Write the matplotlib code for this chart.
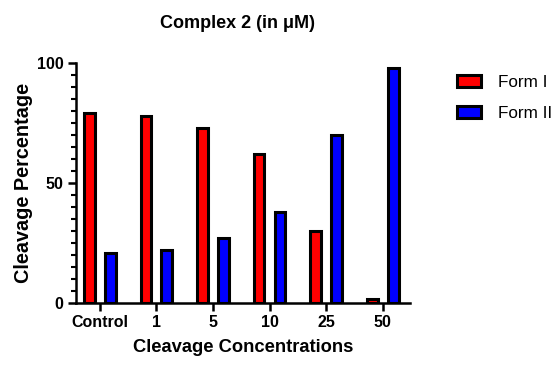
import matplotlib
matplotlib.use("Agg")
import matplotlib.pyplot as plt
import numpy as np
from matplotlib.ticker import MultipleLocator

categories = ["Control", "1", "5", "10", "25", "50"]
form_i = [79, 78, 73, 62, 30, 1.5]
form_ii = [21, 22, 27, 38, 70, 98]

plt.rcParams["font.family"] = ["Liberation Sans", "DejaVu Sans"]

fig = plt.figure(figsize=(5.57, 3.67), dpi=100)
ax = fig.add_axes([0.1364, 0.1744, 0.5996, 0.6539])

x = np.arange(len(categories))
w = 0.19
off = 0.185
ax.bar(x - off, form_i, w, color="#ff0000", edgecolor="black", linewidth=2.2, label="Form I")
ax.bar(x + off, form_ii, w, color="#0000ff", edgecolor="black", linewidth=2.2, label="Form II")

ax.set_xlim(-0.42, 5.48)
ax.set_ylim(0, 100)
ax.set_xticks(x)
ax.set_xticklabels(categories, fontsize=11.5, fontweight="bold")
ax.set_yticks([0, 50, 100])
ax.set_yticklabels(["0", "50", "100"], fontsize=11.5, fontweight="bold")
ax.yaxis.set_minor_locator(MultipleLocator(5))
ax.tick_params(axis="both", which="major", width=1.8, length=6, direction="out", pad=3)
ax.tick_params(axis="y", which="minor", width=1.5, length=3.5)
ax.tick_params(axis="x", which="major", length=6)

for s in ["top", "right"]:
    ax.spines[s].set_visible(False)
for s in ["left", "bottom"]:
    ax.spines[s].set_linewidth(1.8)

ax.set_xlabel("Cleavage Concentrations", fontsize=13.2, fontweight="bold", labelpad=6)
ax.set_ylabel("Cleavage Percentage", fontsize=14.3, fontweight="bold", labelpad=3)
fig.text(0.4255, 0.937, "Complex 2 (in \u03bcM)", fontsize=13, fontweight="bold", ha="center", va="center")

leg = ax.legend(loc="upper left", bbox_to_anchor=(1.095, 1.015), frameon=False, fontsize=12.3,
                handlelength=1.4, handleheight=0.7, handletextpad=1.0, labelspacing=0.95)

fig.savefig("out.png", dpi=100)
